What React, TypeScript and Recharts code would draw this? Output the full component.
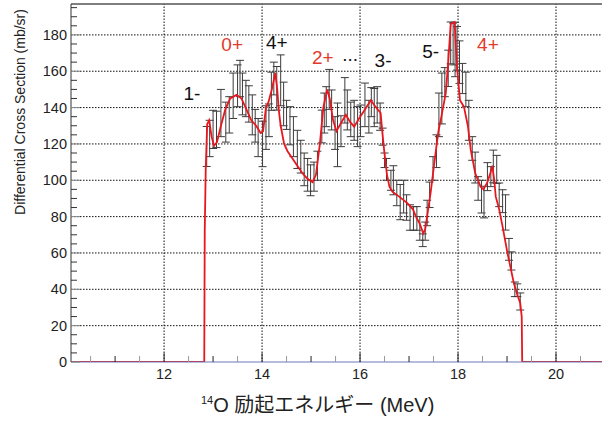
import {
  ComposedChart,
  Line,
  Scatter,
  ErrorBar,
  XAxis,
  YAxis,
  ReferenceLine,
} from 'recharts';

// measured points (MeV, mb/sr, +-err)
const energies = [
  12.87, 12.93, 13.0, 13.07, 13.16, 13.26, 13.33, 13.41, 13.5, 13.55, 13.6, 13.67, 13.73, 13.8, 13.86,
  13.92, 14.01, 14.08, 14.14, 14.19, 14.24, 14.3, 14.38, 14.44, 14.5, 14.57, 14.64, 14.72, 14.79, 14.86,
  14.93, 14.99, 15.06, 15.13, 15.22, 15.27, 15.31, 15.37, 15.42, 15.49, 15.54, 15.61, 15.69, 15.74, 15.81,
  15.88, 15.95, 16.01, 16.1, 16.18, 16.23, 16.29, 16.35, 16.41, 16.46, 16.5, 16.54, 16.63, 16.68, 16.75,
  16.82, 16.89, 16.95, 17.02, 17.09, 17.16, 17.22, 17.28, 17.33, 17.37, 17.42, 17.49, 17.56, 17.61, 17.67,
  17.73, 17.8, 17.85, 17.9, 17.94, 17.98, 18.03, 18.09, 18.16, 18.22, 18.29, 18.35, 18.41, 18.48, 18.53,
  18.6, 18.67, 18.72, 18.79, 18.84, 18.91, 18.97, 19.04, 19.09, 19.16, 19.21, 19.27,
];
const values = [
  118.6, 123, 128, 128, 137, 132, 136, 146.5, 152, 156, 147.5, 145, 142, 136, 130,
  123.5, 120, 129, 133, 149, 156, 150.6, 155, 142, 136, 130, 124, 117, 113, 106,
  103, 100, 102, 108, 129.6, 137, 140.5, 150, 138.7, 126, 125, 127, 144, 138.7, 133.5,
  133, 129.5, 132.7, 141.5, 135, 143, 140, 141.5, 135, 124, 111, 106, 100, 100, 93,
  88, 91, 85, 79.5, 79, 79, 73.5, 67, 72, 82, 92, 106.5, 116, 136, 145,
  154, 161.6, 175.6, 175, 172, 172.6, 165, 156, 150, 133, 117.5, 107, 95.5, 91, 88,
  102, 102, 107.6, 106, 92, 88.5, 82.3, 62, 55.6, 40, 39.5, 33.3,
];
const errors = [
  11, 10, 10.5, 10, 13, 11, 10, 12.5, 11.5, 10, 11.5, 10, 10, 11, 9,
  10.5, 12.5, 12, 9, 10.5, 9, 12, 14, 12, 8, 10.5, 11, 10.5, 9, 9,
  9, 8.5, 8, 8, 9, 11, 11, 11, 11, 9, 17.5, 8.5, 12.5, 11, 9.5,
  11, 11, 8.7, 12, 9, 8, 10.5, 10, 7.5, 4.7, 4, 6, 5.5, 8, 7,
  9.7, 9, 7, 7, 6.5, 6.5, 6.5, 3.5, 5, 7, 7, 6.5, 9, 12, 14,
  8, 10, 11.5, 11.5, 15, 12, 11.7, 8.3, 9.5, 11, 6.5, 8.5, 6.5, 9, 8.7,
  7.7, 5.5, 9, 7.7, 6.5, 6.3, 9.7, 6, 5, 4, 3.5, 4.7,
];

// fit curve
const curveE = [
  10.1, 12.82, 12.83, 12.85, 12.88, 12.92, 12.97, 13.02, 13.08, 13.16, 13.25, 13.35, 13.48, 13.58, 13.68,
  13.78, 13.88, 13.97, 14.02, 14.08, 14.13, 14.2, 14.27, 14.31, 14.34, 14.38, 14.45, 14.52, 14.62, 14.72,
  14.82, 14.92, 15.03, 15.1, 15.18, 15.25, 15.33, 15.38, 15.45, 15.52, 15.6, 15.71, 15.8, 15.88, 15.98,
  16.1, 16.22, 16.3, 16.42, 16.46, 16.49, 16.55, 16.6, 16.66, 16.8, 16.97, 17.08, 17.14, 17.22, 17.29,
  17.33, 17.38, 17.44, 17.5, 17.55, 17.6, 17.66, 17.75, 17.8, 17.85, 17.93, 17.98, 18.04, 18.12, 18.2,
  18.26, 18.35, 18.46, 18.52, 18.6, 18.66, 18.7, 18.74, 18.77, 18.84, 18.91, 19.01, 19.08, 19.14, 19.2,
  19.27, 19.3, 19.31, 21,
];
const curveV = [
  0, 0, 72, 106, 131, 133, 124, 119, 121, 130, 139, 145, 147, 145, 139,
  133, 130, 126, 127, 140, 143, 150, 159, 150, 139, 130, 120, 116, 112, 108,
  104, 101, 99, 103, 120, 140, 150, 145, 133, 127, 131, 136, 132, 129.5, 134,
  139, 144, 141, 137, 125, 117, 103, 96.5, 93.7, 91, 87.3, 84, 80, 76, 70.8,
  73, 82, 93, 106, 116.7, 127, 135, 148, 165, 186, 187, 162, 144, 140.5, 130,
  116.7, 104, 96.5, 95, 99, 104, 108, 100, 91, 84, 74.5, 59.8, 51, 43.3, 38,
  32.3, 25, 0, 0,
];

// state labels
const stateLabels = ['1-', '0+', '4+', '2+', '...', '3-', '5-', '4+'];
const stateE = [12.57, 13.39, 14.3, 15.24, 15.8, 16.47, 17.44, 18.61];
const stateY = [148, 174.7, 176, 167.6, 169, 166, 171, 174.7];
const stateRed = [false, true, false, true, false, false, false, true];

const xTickLabels = [12, 14, 16, 18, 20];
const yTickLabels = [0, 20, 40, 60, 80, 100, 120, 140, 160, 180];

const xTicks = Array.from({ length: 22 }, (_, i) => 10.5 + i * 0.5);
const yTicks = Array.from({ length: 40 }, (_, i) => i * 5);

const points = energies.map((x, i) => ({ x, y: values[i], err: errors[i] }));
const curve = curveE.map((x, i) => ({ x, y: curveV[i] }));
const states = stateLabels.map((t, i) => ({ x: stateE[i], y: stateY[i], t, red: stateRed[i] }));
// horizontal grid rows, drawn as flat lines across the x domain
const gridRows = yTickLabels.slice(1).map((v) => [
  { x: 10.1, y: v },
  { x: 21, y: v },
]);

const RED = '#e8171f';
const LABEL_RED = '#e23a2a';
const FONT = "'Liberation Sans', Arial, 'Noto Sans CJK JP', sans-serif";

const XTick = (props: any) => {
  const { x, y, payload } = props;
  const v = payload.value;
  const major = xTickLabels.includes(v);
  const whole = Number.isInteger(v);
  return (
    <g>
      <line x1={x} x2={x} y1={y} y2={y - (major ? 9 : 6)} stroke={whole ? '#222' : '#999'} />
      {major && (
        <text x={x} y={y + 17} textAnchor="middle" fontSize={14.5} fill="#222" fontFamily={FONT}>
          {v}
        </text>
      )}
    </g>
  );
};

const YTick = (props: any) => {
  const { x, y, payload } = props;
  const v = payload.value;
  const major = yTickLabels.includes(v);
  return (
    <g>
      <line x1={x} x2={x + (major ? 9 : 6)} y1={y} y2={y} stroke={major ? '#888' : '#333'} />
      {major && (
        <text x={x - 4} y={y + 5} textAnchor="end" fontSize={14.5} fill="#222" fontFamily={FONT}>
          {v}
        </text>
      )}
    </g>
  );
};

const StateLabel = (props: any) => {
  const { cx, cy, payload } = props;
  return (
    <text
      x={cx}
      y={cy}
      textAnchor="middle"
      dominantBaseline="central"
      fontSize={19}
      fontFamily={FONT}
      fill={payload.red ? LABEL_RED : '#111'}
    >
      {payload.t}
    </text>
  );
};

export default function App() {
  return (
    <div
      style={{
        position: 'absolute',
        left: 0,
        top: 0,
        width: 602,
        height: 422,
        overflow: 'hidden',
        background: '#fff',
        fontFamily: FONT,
      }}
    >
      <ComposedChart width={606} height={422} margin={{ top: 4, right: 1, bottom: 0, left: 0 }}>
        {xTickLabels.map((v) => (
          <ReferenceLine key={`gx${v}`} x={v} stroke="#111" strokeWidth={1} strokeDasharray="1.5 1.5" />
        ))}
        <ReferenceLine y={197} stroke="#555" strokeWidth={1.5} />
        <XAxis
          type="number"
          dataKey="x"
          domain={[10.1, 21]}
          allowDataOverflow
          ticks={xTicks}
          interval={0}
          tickSize={0}
          tickMargin={0}
          tick={<XTick />}
          axisLine={{ stroke: '#6a78b8' }}
          height={60}
        />
        <YAxis
          type="number"
          domain={[0, 197]}
          allowDataOverflow
          ticks={yTicks}
          interval={0}
          tickSize={0}
          tickMargin={0}
          tick={<YTick />}
          axisLine={{ stroke: '#333' }}
          width={71}
        />
        {gridRows.map((row, i) => (
          <Line
            key={`row${i}`}
            data={row}
            dataKey="y"
            type="linear"
            stroke="#111"
            strokeWidth={1}
            strokeDasharray="1.5 1.5"
            dot={false}
            activeDot={false}
            legendType="none"
            isAnimationActive={false}
          />
        ))}
        <Scatter data={points} dataKey="y" shape={() => <g />} isAnimationActive={false}>
          <ErrorBar dataKey="err" direction="y" width={4} strokeWidth={1} stroke="#3c3c3c" isAnimationActive={false} />
        </Scatter>
        <Line
          data={curve}
          dataKey="y"
          type="linear"
          stroke={RED}
          strokeWidth={1.8}
          dot={false}
          activeDot={false}
          isAnimationActive={false}
        />
        <Scatter data={states} dataKey="y" shape={<StateLabel />} isAnimationActive={false} />
      </ComposedChart>
      <div
        style={{
          position: 'absolute',
          left: 19.5 - 120,
          top: 111.5 - 9,
          width: 240,
          height: 18,
          lineHeight: '18px',
          textAlign: 'center',
          fontSize: 14,
          color: '#222',
          transform: 'rotate(-90deg)',
          whiteSpace: 'nowrap',
        }}
      >
        Differential Cross Section (mb/sr)
      </div>
      <div
        style={{
          position: 'absolute',
          left: 201,
          top: 394,
          fontSize: 20,
          lineHeight: '22px',
          color: '#222',
          whiteSpace: 'nowrap',
        }}
      >
        <span style={{ fontSize: 11, position: 'relative', top: -8 }}>14</span>O 励起エネルギー (MeV)
      </div>
    </div>
  );
}
